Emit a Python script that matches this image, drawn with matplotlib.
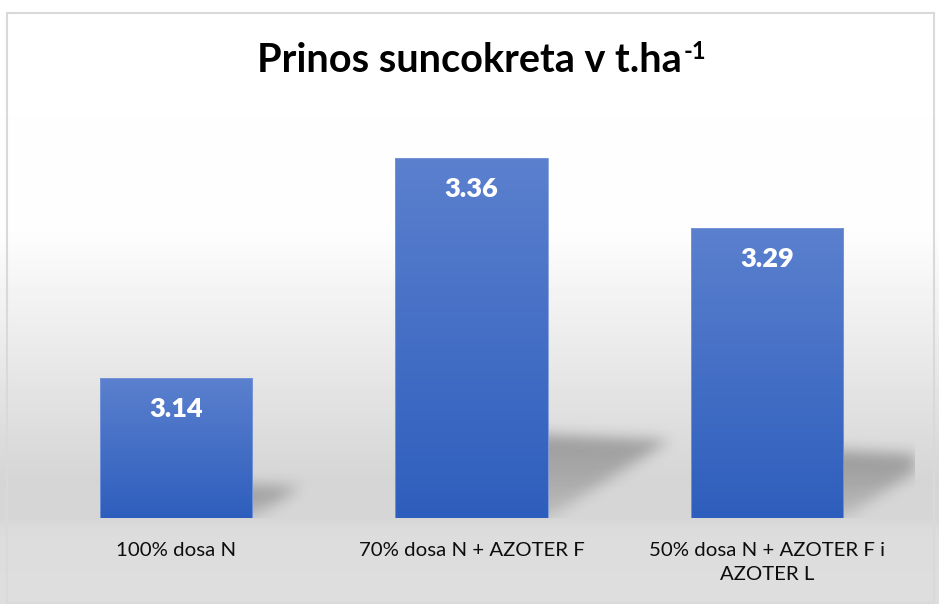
import numpy as np
import matplotlib.pyplot as plt
from matplotlib.patches import Rectangle
from matplotlib.colors import LinearSegmentedColormap

categories = ["100% dosa N", "70% dosa N + AZOTER F", "50% dosa N + AZOTER F i\nAZOTER L"]
values = [3.14, 3.36, 3.29]
value_labels = ["3.14", "3.36", "3.29"]
title_main = "Prinos suncokreta v t.ha"
title_sup = "-1"

plt.rcParams['font.family'] = ['Lato', 'DejaVu Sans']

W, H = 939, 604
fig = plt.figure(figsize=(W / 100, H / 100), dpi=100)

# background gradient (white on top, grey at the bottom)
bg = fig.add_axes([0, 0, 1, 1], zorder=-10)
rows = np.arange(H)
shade = np.interp(rows, [0, 232, 480, 518, 530, H], [255, 253, 213, 214, 220, 222]) / 255
img = np.repeat(shade[:, None], 2, axis=1)
bg.imshow(img, cmap='gray', vmin=0, vmax=1, extent=(0, W, H, 0), aspect='auto')
bg.set_xlim(0, W)
bg.set_ylim(H, 0)
bg.axis('off')
bg.add_patch(Rectangle((6.5, 12.5), W - 12, H - 14, fill=False, edgecolor='#d9d9d9', lw=1.5))

# plot area
ymin, ymax = 3.0, 3.4
ax = fig.add_axes([28 / W, 86 / H, 887 / W, 400 / H])
ax.set_facecolor('none')
x = np.arange(len(values))
width = 0.515

# perspective shadows, blurred
nx, ny = 887, 400
gx = np.linspace(-0.5, 2.5, nx)
gy = np.linspace(ymin, ymax, ny)
GX, GY = np.meshgrid(gx, gy)
shadow = np.zeros_like(GX)
for xi, v in zip(x, values):
    h = v - ymin
    xr = xi + width / 2
    top = ymin + 0.23 * h
    tip_x = xr + 1.15 * h
    tip_y = ymin + 0.215 * h
    # lower edge: line from (xr, ymin) to (tip_x, tip_y)
    t = (GX - xr) / (tip_x - xr)
    lower = ymin + t * (tip_y - ymin)
    upper = top + t * (tip_y - top)
    inside = (GX >= xr - 0.05) & (t <= 1) & (GY >= lower) & (GY <= upper)
    weight = np.clip(0.4 + 0.6 * (GY - ymin) / (top - ymin), 0, 1)
    shadow = np.maximum(shadow, inside * weight)

def blur(a, sigma):
    k = np.arange(-3 * sigma, 3 * sigma + 1)
    g = np.exp(-k ** 2 / (2 * sigma ** 2))
    g /= g.sum()
    a = np.apply_along_axis(lambda r: np.convolve(r, g, mode='same'), 1, a)
    a = np.apply_along_axis(lambda c: np.convolve(c, g, mode='same'), 0, a)
    return a

shadow = blur(shadow, 7)
rgba = np.zeros((ny, nx, 4))
rgba[..., 3] = 0.30 * shadow
ax.imshow(rgba, extent=(-0.5, 2.5, ymin, ymax), origin='lower', aspect='auto', zorder=1)

# bars with vertical gradient
bar_cmap = LinearSegmentedColormap.from_list('bar', ['#2e5ebd', '#5b80ce'])
bars = ax.bar(x, values, width, color='none', edgecolor='#7a98d8', linewidth=0.6, zorder=3)
for b, v in zip(bars, values):
    grad = np.linspace(0, 1, 256)[:, None]
    ax.imshow(grad, cmap=bar_cmap, extent=(b.get_x(), b.get_x() + b.get_width(), ymin, v),
              origin='lower', aspect='auto', zorder=2)

for xi, v, lab in zip(x, values, value_labels):
    ax.text(xi, v - 0.031, lab, ha='center', va='center', color='white',
            fontsize=19.5, fontweight='heavy', zorder=4)

ax.set_xlim(-0.5, 2.5)
ax.set_ylim(ymin, ymax)
ax.set_xticks(x, categories, fontsize=14.7, color='#0d0d0d', linespacing=1.55)
ax.tick_params(axis='x', length=0, pad=17)
ax.set_yticks([])
for s in ax.spines.values():
    s.set_visible(False)

# title with superscript
t = fig.text(0.5, 1 - 61 / H, title_main, ha='center', va='center', fontsize=28.5, fontweight='bold')
fig.canvas.draw()
ax.annotate(title_sup, xy=(1, 1), xycoords=t, xytext=(1, 2), textcoords='offset points',
            ha='left', va='top', fontsize=17, fontweight='bold')

fig.savefig('out.png', dpi=100)
